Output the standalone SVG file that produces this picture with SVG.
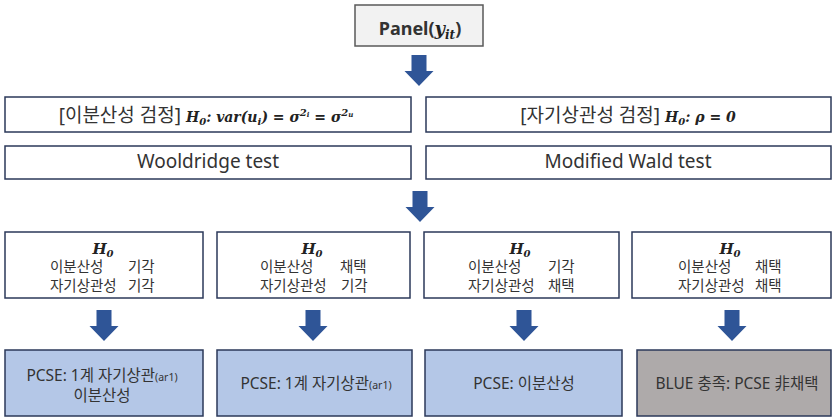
<svg xmlns="http://www.w3.org/2000/svg" width="833" height="417" viewBox="0 0 833 417">
<style>
.box{fill:#ffffff;stroke:#2b3859;stroke-width:1.5}
.panel{fill:#f2f2f2;stroke:#595959;stroke-width:1.5}
.blue{fill:#b4c7e7;stroke:#2b3859;stroke-width:1.5}
.gray{fill:#aeaaaa;stroke:#2b3859;stroke-width:1.5}
.arrow{fill:#2f5597}
.kr{font-family:"Noto Sans","Noto Sans CJK KR",sans-serif;fill:#333333}
.m{font-family:"DejaVu Serif","Liberation Serif",serif;font-weight:bold;font-style:italic;fill:#222222}
</style>
<defs>
<path id="arr" d="M-7.5,0 H7.5 V16 H14.5 L0,31 L-14.5,16 H-7.5 Z"/>
</defs>
<rect width="833" height="417" fill="#ffffff"/>
<g id="connectors" class="arrow">
<use href="#arr" x="419" y="55"/>
<use href="#arr" x="420" y="191"/>
<use href="#arr" x="104" y="310"/>
<use href="#arr" x="313" y="310"/>
<use href="#arr" x="524" y="310"/>
<use href="#arr" x="732" y="310"/>
</g>
<g id="panel">
<rect class="panel" x="355" y="5" width="128" height="41"/>
<text x="420" y="35" text-anchor="middle" font-size="18"><tspan class="kr" font-weight="bold">Panel(</tspan><tspan class="m" font-weight="normal" font-size="18">y</tspan><tspan class="m" font-weight="normal" font-size="12" dy="4">it</tspan><tspan class="kr" font-weight="bold" dy="-4">)</tspan></text>
</g>
<g id="hetero-test">
<rect class="box" x="5" y="97" width="406" height="35"/>
<text x="206" y="122" text-anchor="middle"><tspan class="kr" font-size="19">[이분산성 검정] </tspan><tspan class="m" font-size="14">H</tspan><tspan class="m" font-size="10" dy="3">0</tspan><tspan class="m" font-size="14" dy="-3">: var(u</tspan><tspan class="m" font-size="10" dy="3">i</tspan><tspan class="m" font-size="14" dy="-3">) = σ</tspan><tspan class="m" font-size="10" dy="-6">2</tspan><tspan class="m" font-size="7" dy="1">i</tspan><tspan class="m" font-size="14" dy="5"> = σ</tspan><tspan class="m" font-size="10" dy="-6">2</tspan><tspan class="m" font-size="7" dy="1">u</tspan></text>
</g>
<g id="autocorr-test">
<rect class="box" x="426" y="97" width="405" height="35"/>
<text x="628" y="122" text-anchor="middle"><tspan class="kr" font-size="19">[자기상관성 검정] </tspan><tspan class="m" font-size="14">H</tspan><tspan class="m" font-size="10" dy="3">0</tspan><tspan class="m" font-size="14" dy="-3">: ρ = 0</tspan></text>
</g>
<g id="wooldridge">
<rect class="box" x="5" y="146" width="406" height="33"/>
<text class="kr" x="208" y="168" text-anchor="middle" font-size="19">Wooldridge test</text>
</g>
<g id="wald">
<rect class="box" x="426" y="146" width="405" height="33"/>
<text class="kr" x="628" y="168" text-anchor="middle" font-size="19">Modified Wald test</text>
</g>
<g id="case1">
<rect class="box" x="5" y="232" width="198" height="66"/>
<text x="103" y="254" text-anchor="middle"><tspan class="m" font-size="15">H</tspan><tspan class="m" font-size="10" dy="3">0</tspan></text>
<text class="kr" font-size="14.5" y="272"><tspan x="50">이분산성</tspan><tspan x="128">기각</tspan></text>
<text class="kr" font-size="14.5" y="291"><tspan x="50">자기상관성</tspan><tspan x="128">기각</tspan></text>
</g>
<g id="case2">
<rect class="box" x="217" y="232" width="193" height="66"/>
<text x="312" y="254" text-anchor="middle"><tspan class="m" font-size="15">H</tspan><tspan class="m" font-size="10" dy="3">0</tspan></text>
<text class="kr" font-size="14.5" y="272"><tspan x="260">이분산성</tspan><tspan x="340">채택</tspan></text>
<text class="kr" font-size="14.5" y="291"><tspan x="260">자기상관성</tspan><tspan x="341">기각</tspan></text>
</g>
<g id="case3">
<rect class="box" x="424" y="232" width="195" height="66"/>
<text x="520" y="254" text-anchor="middle"><tspan class="m" font-size="15">H</tspan><tspan class="m" font-size="10" dy="3">0</tspan></text>
<text class="kr" font-size="14.5" y="272"><tspan x="468">이분산성</tspan><tspan x="548">기각</tspan></text>
<text class="kr" font-size="14.5" y="291"><tspan x="468">자기상관성</tspan><tspan x="548">채택</tspan></text>
</g>
<g id="case4">
<rect class="box" x="632" y="232" width="199" height="66"/>
<text x="730" y="254" text-anchor="middle"><tspan class="m" font-size="15">H</tspan><tspan class="m" font-size="10" dy="3">0</tspan></text>
<text class="kr" font-size="14.5" y="272"><tspan x="678">이분산성</tspan><tspan x="755">채택</tspan></text>
<text class="kr" font-size="14.5" y="291"><tspan x="678">자기상관성</tspan><tspan x="755">채택</tspan></text>
</g>
<g id="result1">
<rect class="blue" x="5" y="350" width="198" height="66"/>
<text class="kr" x="102" y="381" text-anchor="middle" font-size="15.5">PCSE: 1계 자기상관<tspan font-size="10.5">(ar1)</tspan></text>
<text class="kr" x="102" y="401" text-anchor="middle" font-size="15.5">이분산성</text>
</g>
<g id="result2">
<rect class="blue" x="217" y="350" width="195" height="66"/>
<text class="kr" x="316" y="389" text-anchor="middle" font-size="15.5">PCSE: 1계 자기상관<tspan font-size="10.5">(ar1)</tspan></text>
</g>
<g id="result3">
<rect class="blue" x="425" y="350" width="197" height="66"/>
<text class="kr" x="524" y="389" text-anchor="middle" font-size="15.5">PCSE: 이분산성</text>
</g>
<g id="result4">
<rect class="gray" x="637" y="350" width="194" height="66"/>
<text class="kr" x="737" y="389" text-anchor="middle" font-size="15.5">BLUE 충족: PCSE 非채택</text>
</g>
</svg>
